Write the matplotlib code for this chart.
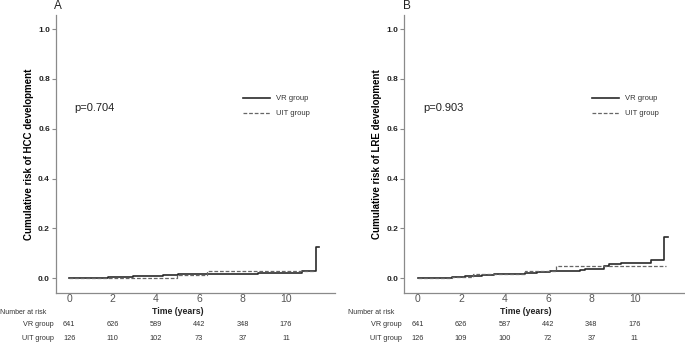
import matplotlib
matplotlib.use("Agg")
import matplotlib.pyplot as plt
from matplotlib.transforms import blended_transform_factory

plt.rcParams['font.family'] = ['Liberation Sans', 'DejaVu Sans']

# ---- data ----
a_vr_t = [0, 1.8, 2.96, 4.35, 5.04, 7.73, 8.73, 10.73, 11.39, 11.55]
a_vr_v = [0.002, 0.004, 0.008, 0.012, 0.015, 0.018, 0.021, 0.029, 0.125, 0.125]
a_uit_t = [0, 4.97, 6.34, 11.3]
a_uit_v = [0.002, 0.014, 0.027, 0.027]

b_vr_t = [0, 1.57, 1.9, 2.2, 2.8, 2.96, 3.5, 4.27, 4.96, 5.5, 6.1, 7.5, 7.7,
          8.13, 8.6, 8.8, 9.35, 10.74, 11.37, 11.55]
b_vr_v = [0.0, 0.003, 0.005, 0.007, 0.009, 0.013, 0.015, 0.018, 0.022, 0.025,
          0.027, 0.031, 0.035, 0.038, 0.047, 0.056, 0.062, 0.071, 0.165, 0.165]
b_uit_t = [0, 1.6, 2.57, 4.96, 6.35, 11.43]
b_uit_v = [0.0, 0.003, 0.016, 0.029, 0.048, 0.048]

risk_times = [0, 2, 4, 6, 8, 10]
a_vr_risk = [641, 626, 589, 442, 348, 176]
a_uit_risk = [126, 110, 102, 73, 37, 11]
b_vr_risk = [641, 626, 587, 442, 348, 176]
b_uit_risk = [126, 109, 100, 72, 37, 11]

panels = [
    dict(letter="A", ylabel="Cumulative risk of HCC development", p="p=0.704",
         vr=(a_vr_t, a_vr_v), uit=(a_uit_t, a_uit_v),
         vr_risk=a_vr_risk, uit_risk=a_uit_risk,
         rect=[55.5/685, 1-293/342, (335-55.5)/685, (293-15)/342], tab_x=0.0),
    dict(letter="B", ylabel="Cumulative risk of LRE development", p="p=0.903",
         vr=(b_vr_t, b_vr_v), uit=(b_uit_t, b_uit_v),
         vr_risk=b_vr_risk, uit_risk=b_uit_risk,
         rect=[404/685, 1-293/342, (684-404)/685, (293-15)/342], tab_x=348/685),
]

fig = plt.figure(figsize=(6.85, 3.42), dpi=100)
spine_c = '#8a8a8a'
txt_c = '#333333'

for P in panels:
    ax = fig.add_axes(P["rect"])
    ax.set_xlim(-0.63, 12.27)
    ax.set_ylim(-0.06, 1.057)
    for s in ['top', 'right']:
        ax.spines[s].set_visible(False)
    for s in ['left', 'bottom']:
        ax.spines[s].set_color(spine_c)
        ax.spines[s].set_linewidth(0.9)
    t, v = P["vr"]
    ax.step(t, v, where='post', color='#2a2a2a', lw=1.2, label='VR group')
    t, v = P["uit"]
    ax.step(t, v, where='post', color='#666666', lw=0.9, ls=(0, (3, 1.5)), label='UIT group')

    ax.set_yticks([0.0, 0.2, 0.4, 0.6, 0.8, 1.0])
    ax.set_yticklabels(['0.0', '0.2', '0.4', '0.6', '0.8', '1.0'],
                       fontsize=6, fontweight='bold', color='#222222')
    ax.tick_params(axis='y', length=3, width=0.8, color=spine_c, pad=1)
    ax.set_xticks(risk_times)
    ax.set_xticklabels([str(x) for x in risk_times], fontsize=7.5, color='#555555')
    ax.tick_params(axis='x', length=0, pad=1)
    ax.set_ylabel(P["ylabel"], fontsize=7, fontweight='bold', labelpad=3)

    ax.text(0.25, 0.684, P["p"], fontsize=8, va='center', ha='left', color='#222222')
    bx = P["rect"][0] - 1.5/685
    fig.text(bx, 1-6/342, P["letter"], fontsize=8.5, ha='left', va='center', color='#222222')
    ax.legend(loc='upper left', bbox_to_anchor=(0.647, 0.737), frameon=False,
              fontsize=5.5, handlelength=3.5, handletextpad=0.8, labelspacing=1.0,
              labelcolor=txt_c)

    tr = blended_transform_factory(ax.transData, fig.transFigure)
    ax.text(5.0, 1-312/342, "Time (years)", transform=tr, fontsize=6.3,
            fontweight='bold', ha='center', va='center', color='#222222')
    fig.text(P["tab_x"], 1-312/342, "Number at risk", fontsize=5, ha='left', va='center', color=txt_c)
    fig.text(P["tab_x"] + 38/685, 1-324/342, "VR group", fontsize=5.2, ha='center', va='center', color=txt_c)
    fig.text(P["tab_x"] + 38/685, 1-338/342, "UIT group", fontsize=5.2, ha='center', va='center', color=txt_c)
    for x, n1, n2 in zip(risk_times, P["vr_risk"], P["uit_risk"]):
        ax.text(x, 1-324/342, str(n1), transform=tr, fontsize=5.3, ha='center', va='center', color=txt_c)
        ax.text(x, 1-338/342, str(n2), transform=tr, fontsize=5.3, ha='center', va='center', color=txt_c)

fig.savefig("out.png", dpi=100)
